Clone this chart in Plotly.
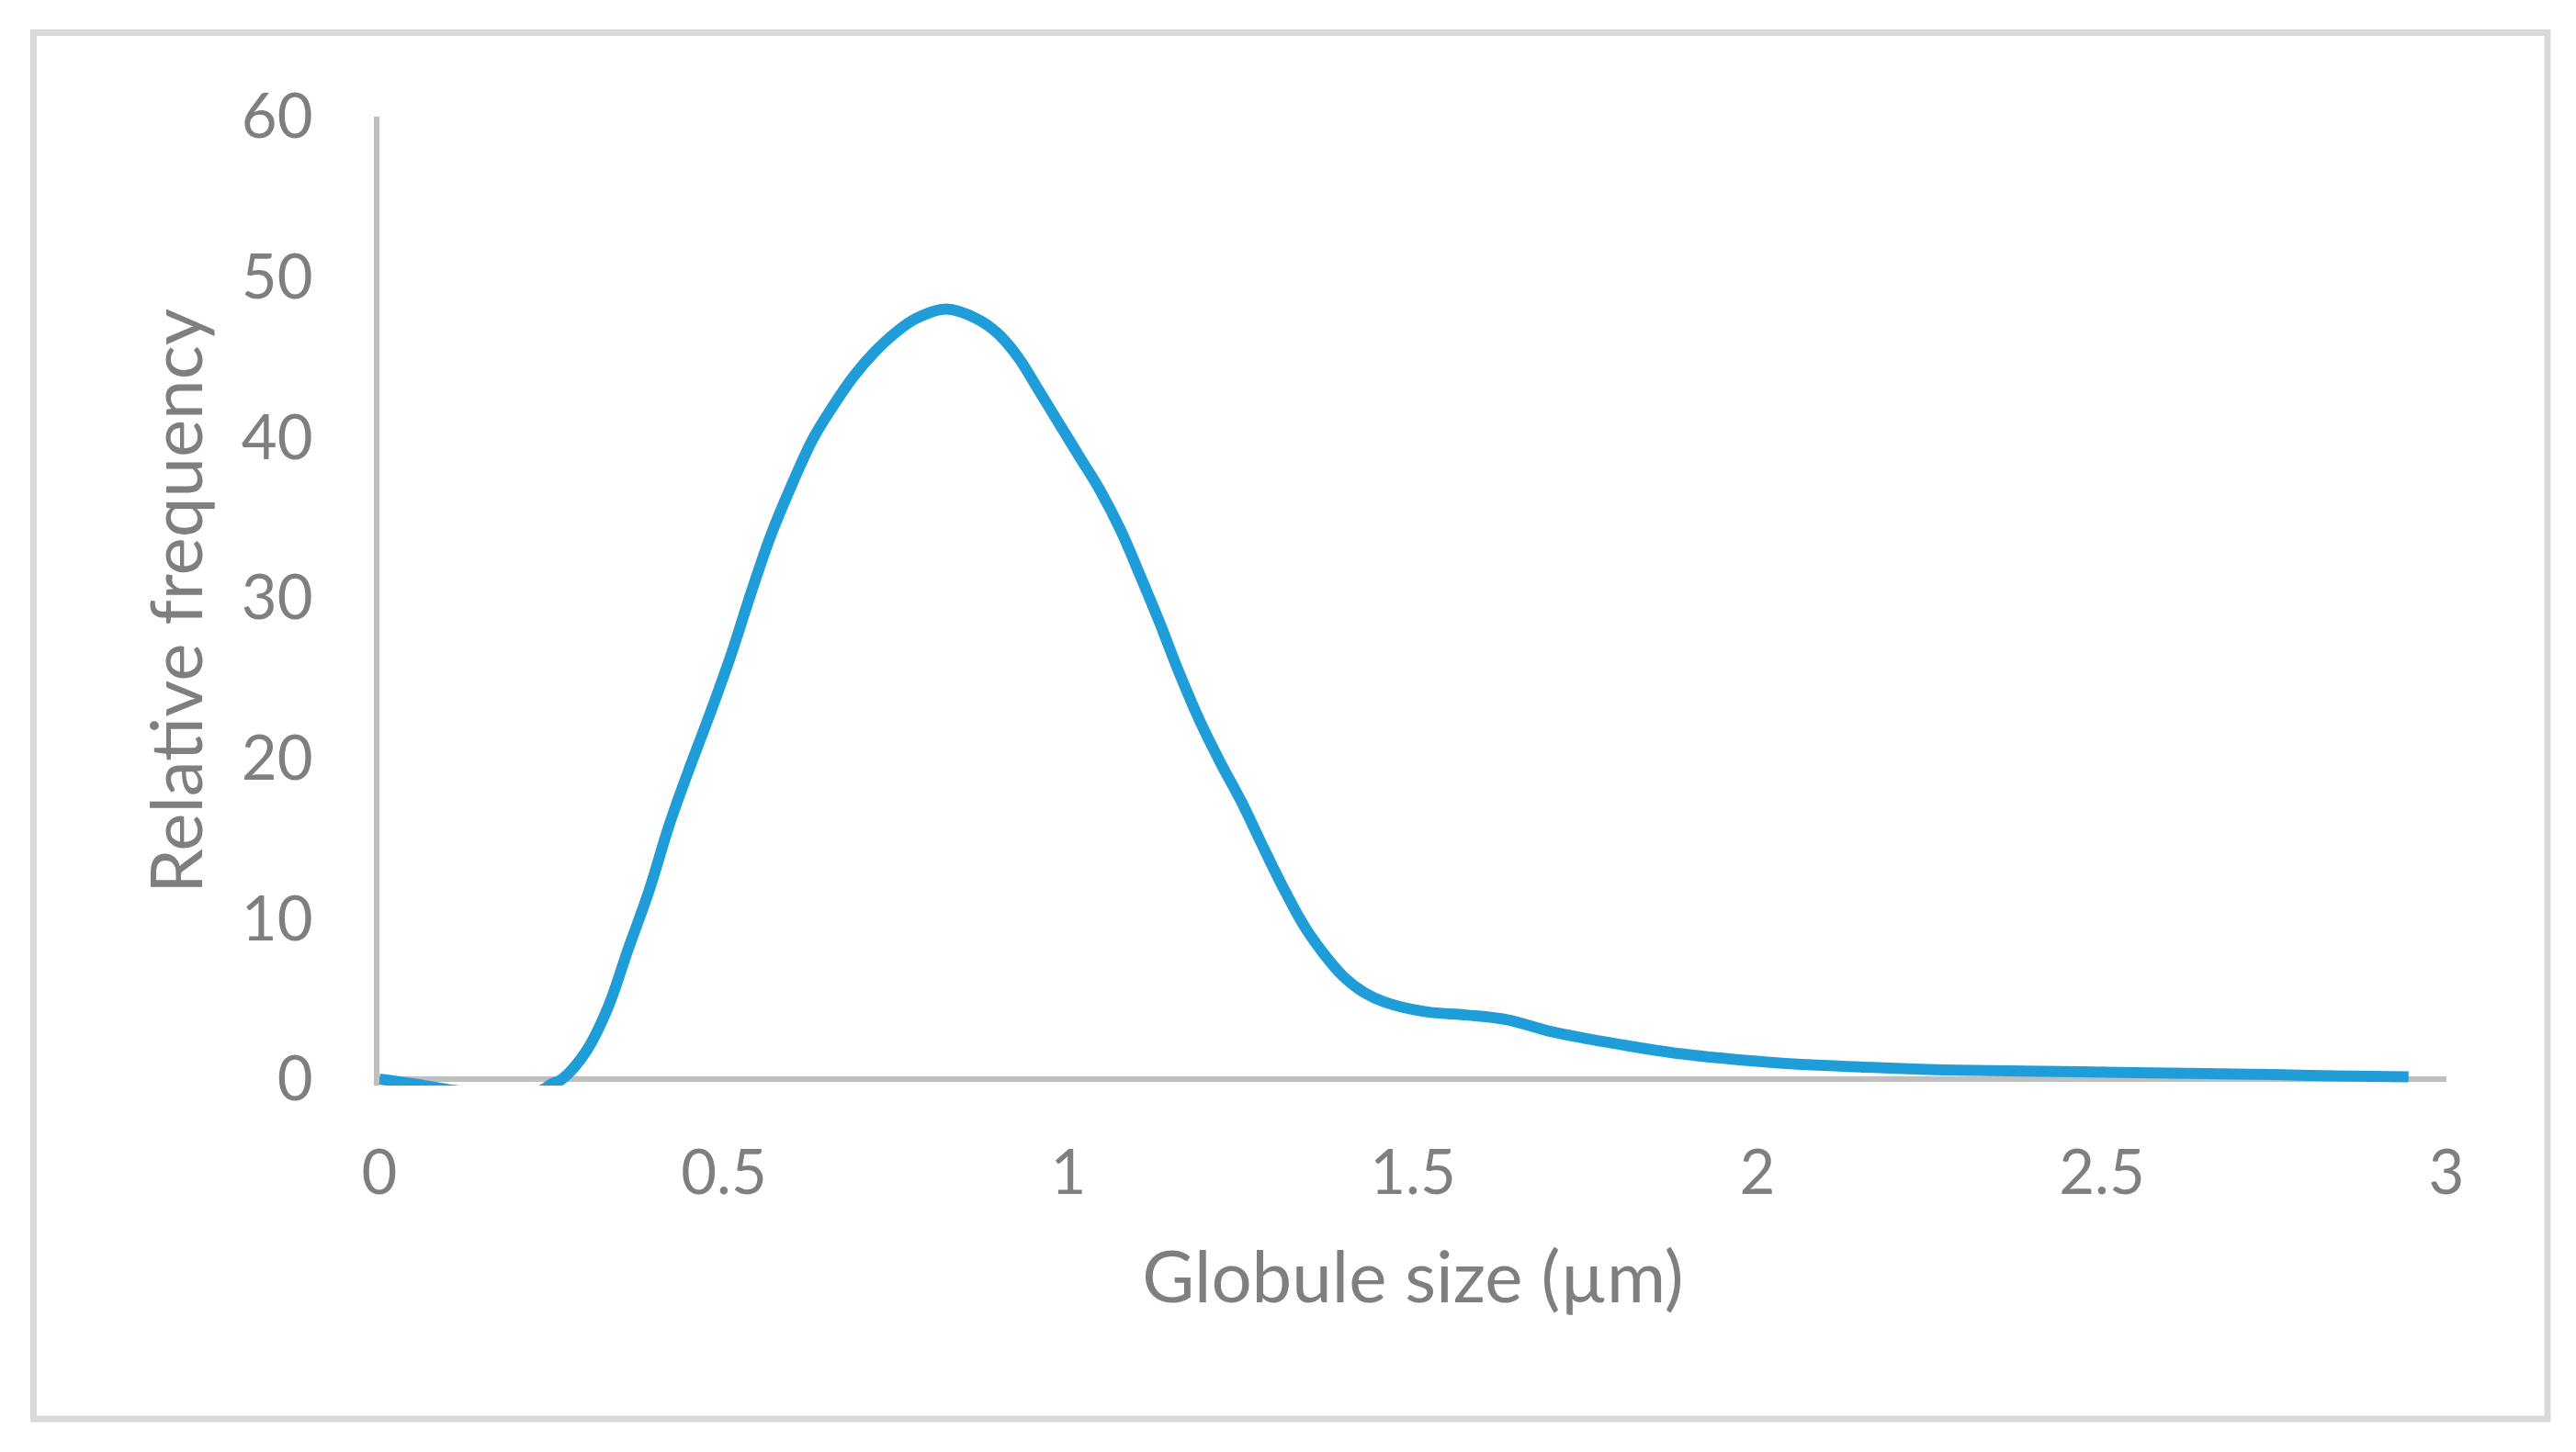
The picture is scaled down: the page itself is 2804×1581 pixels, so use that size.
import plotly.graph_objects as go

# Globule size (µm) and relative frequency
size_um = [0.0, 0.05, 0.1, 0.15, 0.2, 0.235, 0.25, 0.265, 0.301, 0.332, 0.361, 0.391, 0.421, 0.451,
           0.48, 0.51, 0.54, 0.569, 0.599, 0.629, 0.659, 0.688, 0.718, 0.748, 0.778,
           0.823, 0.867, 0.897, 0.927, 0.956, 0.986, 1.016, 1.046, 1.076, 1.105, 1.132,
           1.161, 1.191, 1.221, 1.251, 1.28, 1.311, 1.34, 1.369, 1.399, 1.429, 1.459,
           1.519, 1.578, 1.637, 1.697, 1.756, 1.816, 1.876, 1.95, 2.032, 2.152, 2.271,
           2.39, 2.51, 2.63, 2.75, 2.868, 2.945]
rel_freq = [0.0, -0.3, -0.65, -0.9, -0.9, -0.7, -0.3, 0.0, 1.8, 4.5, 8.1, 11.7, 15.9, 19.5,
            22.8, 26.4, 30.4, 34.0, 37.1, 39.9, 42.0, 43.8, 45.3, 46.5, 47.4,
            48.0, 47.4, 46.5, 45.0, 43.0, 40.9, 38.8, 36.7, 34.2, 31.3, 28.5,
            25.3, 22.3, 19.7, 17.3, 14.7, 12.0, 9.7, 7.9, 6.4, 5.4, 4.8,
            4.2, 4.0, 3.7, 3.0, 2.5, 2.05, 1.65, 1.3, 1.0, 0.75, 0.58,
            0.5, 0.43, 0.36, 0.28, 0.18, 0.15]

x_tickvals = [0, 0.5, 1, 1.5, 2, 2.5, 3]
x_ticktext = ["0", "0.5", "1", "1.5", "2", "2.5", "3"]
y_tickvals = [0, 10, 20, 30, 40, 50, 60]
y_ticktext = ["0", "10", "20", "30", "40", "50", "60"]

W, H = 2804, 1581
ML, MR, MT, MB = 413, 141, 127, 399
TXT = "#7F7F7F"
FONT = "Lato"

fig = go.Figure()
fig.add_trace(go.Scatter(
    x=size_um, y=rel_freq, mode="lines",
    line=dict(color="#1E9DD8", width=12, shape="spline", smoothing=1.0),
    hoverinfo="x+y", showlegend=False,
))

pw = W - ML - MR
ph = H - MT - MB
# chart-area border (decoration), converted from pixel to paper coordinates
bx0, bx1, by0, by1 = 36.5, 2773, 35.5, 1545
fig.add_shape(type="rect", xref="paper", yref="paper",
              x0=(bx0 - ML) / pw, x1=(bx1 - ML) / pw,
              y0=(H - MB - by1) / ph, y1=(H - MB - by0) / ph,
              line=dict(color="#D9D9D9", width=7), fillcolor="rgba(0,0,0,0)", layer="below")

fig.update_layout(
    width=W, height=H,
    margin=dict(l=ML, r=MR, t=MT, b=MB, autoexpand=False),
    paper_bgcolor="white", plot_bgcolor="white",
    font=dict(family=FONT, color=TXT),
    xaxis=dict(
        range=[0, 3], tickvals=x_tickvals, ticktext=x_ticktext,
        showgrid=False, zeroline=False, showline=False, ticks="",
        tickfont=dict(size=67, color=TXT, family=FONT), ticklabelstandoff=50,
        title=dict(text="Globule size (µm)", font=dict(size=78, color=TXT, family=FONT), standoff=50),
        layer="below traces",
    ),
    yaxis=dict(
        range=[-0.4, 60], tickvals=y_tickvals, ticktext=y_ticktext,
        showgrid=False, zeroline=True, zerolinecolor="#BFBFBF", zerolinewidth=6,
        showline=True, linecolor="#BFBFBF", linewidth=6, ticks="",
        tickfont=dict(size=67, color=TXT, family=FONT), ticklabelstandoff=53,
        title=dict(text="Relative frequency", font=dict(size=78, color=TXT, family=FONT), standoff=19),
        layer="below traces",
    ),
)

fig.write_html("out.html", config={"displayModeBar": False},
               post_script="document.body.style.margin='0';")
